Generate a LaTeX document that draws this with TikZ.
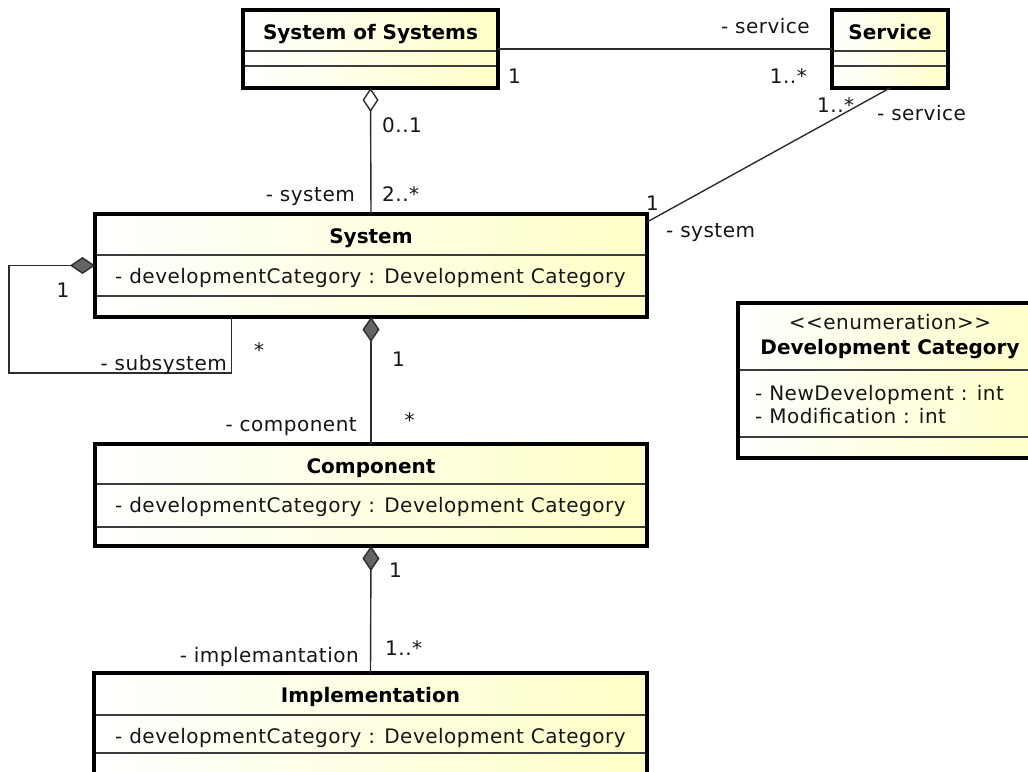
\documentclass[tikz,border=0pt]{standalone}
\usepackage{fontspec}
\setmainfont{DejaVu Sans}[LetterSpace=2.5]
\newfontfamily\titlefam{DejaVu Sans}[LetterSpace=0.0]
\usetikzlibrary{arrows.meta}
\definecolor{umly}{RGB}{255,255,200}
\definecolor{txt}{RGB}{22,22,22}
\definecolor{conn}{RGB}{45,45,45}
\definecolor{compfill}{RGB}{100,100,100}
\definecolor{divc}{RGB}{60,60,60}
\begin{document}
\begin{tikzpicture}[x=1pt,y=-1pt,
  every node/.style={font=\fontsize{20}{24}\selectfont, text=txt},
  cls/.style={draw=black, line width=3.2pt, left color=white, right color=umly, anchor=north west, inner sep=0pt, outer sep=0pt},
  divline/.style={line width=1.2pt, draw=divc, shorten <=1.6pt, shorten >=1.6pt},
  ttl/.style={font=\titlefam\bfseries\fontsize{20}{24}\selectfont, inner sep=0pt, anchor=base, text=black},
  attr/.style={inner sep=0pt, anchor=base west},
  lbl/.style={inner sep=0pt},
  assoc/.style={line width=1.4pt, draw=conn},
  compo/.style={assoc, {Diamond[length=25pt,width=17pt,fill=compfill]}-},
  aggr/.style={assoc, {Diamond[length=24pt,width=16pt,fill=white]}-},
]
\useasboundingbox (0,0) rectangle (1028,771);
\fill[white] (0,0) rectangle (1028,771);
\clip (0,0) rectangle (1028,771);

% classes
\node[cls, minimum width=255pt, minimum height=78pt] (sos) at (243,10) {};
\draw[divline] ([yshift=-41pt]sos.north west) -- ([yshift=-41pt]sos.north east);
\draw[divline] ([yshift=-56pt]sos.north west) -- ([yshift=-56pt]sos.north east);
\node[ttl] (sosname) at ([yshift=-29pt]sos.north) {System of Systems};

\node[cls, minimum width=116pt, minimum height=78pt] (service) at (832,10) {};
\draw[divline] ([yshift=-41pt]service.north west) -- ([yshift=-41pt]service.north east);
\draw[divline] ([yshift=-56pt]service.north west) -- ([yshift=-56pt]service.north east);
\node[ttl] (servicename) at ([yshift=-29pt]service.north) {Service};

\node[cls, minimum width=552pt, minimum height=103pt] (system) at (95,214) {};
\draw[divline] ([yshift=-41pt]system.north west) -- ([yshift=-41pt]system.north east);
\draw[divline] ([yshift=-82pt]system.north west) -- ([yshift=-82pt]system.north east);
\node[ttl] (systemname) at ([yshift=-29pt]system.north) {System};
\node[attr] (systemattr) at ([xshift=20pt,yshift=-69pt]system.north west) {- developmentCategory : Development Category};

\node[cls, minimum width=552pt, minimum height=102pt] (component) at (95,444) {};
\draw[divline] ([yshift=-40pt]component.north west) -- ([yshift=-40pt]component.north east);
\draw[divline] ([yshift=-83pt]component.north west) -- ([yshift=-83pt]component.north east);
\node[ttl] (componentname) at ([yshift=-29pt]component.north) {Component};
\node[attr] (componentattr) at ([xshift=20pt,yshift=-68pt]component.north west) {- developmentCategory : Development Category};

\node[cls, minimum width=553pt, minimum height=103pt] (impl) at (94,673) {};
\draw[divline] ([yshift=-42pt]impl.north west) -- ([yshift=-42pt]impl.north east);
\draw[divline] ([yshift=-80pt]impl.north west) -- ([yshift=-80pt]impl.north east);
\node[ttl] (implname) at ([yshift=-29pt]impl.north) {Implementation};
\node[attr] (implattr) at ([xshift=21pt,yshift=-70pt]impl.north west) {- developmentCategory : Development Category};

\node[cls, minimum width=304pt, minimum height=155pt] (devcat) at (738,303) {};
\draw[divline] ([yshift=-67pt]devcat.north west) -- ([yshift=-67pt]devcat.north east);
\draw[divline] ([yshift=-134pt]devcat.north west) -- ([yshift=-134pt]devcat.north east);
\node[lbl, anchor=base] (devstereo) at ([yshift=-26pt]devcat.north) {<{}<enumeration>{}>};
\node[ttl] (devname) at ([yshift=-51pt]devcat.north) {Development Category};
\node[attr] (devattr1) at ([xshift=17pt,yshift=-97pt]devcat.north west) {- NewDevelopment : int};
\node[attr] (devattr2) at ([xshift=17pt,yshift=-120pt]devcat.north west) {- Modification : int};

% connectors
\coordinate (loopend) at ([xshift=136.5pt]system.south west);
\draw[assoc] (sos.east) -- (service.west);
\draw[aggr] (sos.south) -- (system.north);
\draw[assoc] (service.south) -- ([yshift=-8pt]system.north east);
\draw[compo] (system.west) -- ++(-86,0) |- ([yshift=-56pt]loopend) -- (loopend);
\draw[compo] (system.south) -- (component.north);
\draw[compo] (component.south) -- (impl.north);

% role and multiplicity labels
\node[lbl, anchor=base east] (l1) at (810,33) {- service};
\node[lbl, anchor=base west] (l2) at (508,83) {1};
\node[lbl, anchor=base east] (l3) at (807,83) {1..*};
\node[lbl, anchor=base west] (l4) at (382,132) {0..1};
\node[lbl, anchor=base west] (l5) at (382,201) {2..*};
\node[lbl, anchor=base east] (l6) at (355,201) {- system};
\node[lbl, anchor=base west] (l7) at (817,112) {1..*};
\node[lbl, anchor=base west] (l8) at (877,120) {- service};
\node[lbl, anchor=base west] (l9) at (646,210) {1};
\node[lbl, anchor=base west] (l10) at (666,237) {- system};
\node[lbl, anchor=base] (l11) at (63,297) {1};
\node[lbl, anchor=base east] (l12) at (227,370) {- subsystem};
\node[lbl, anchor=base] (l13) at (259,357) {*};
\node[lbl, anchor=base west] (l14) at (392,366) {1};
\node[lbl, anchor=base] (l15) at (409.5,427) {*};
\node[lbl, anchor=base east] (l16) at (357,431) {- component};
\node[lbl, anchor=base west] (l17) at (389,577) {1};
\node[lbl, anchor=base west] (l18) at (385,655) {1..*};
\node[lbl, anchor=base east] (l19) at (359,662) {- implemantation};
\end{tikzpicture}
\end{document}
